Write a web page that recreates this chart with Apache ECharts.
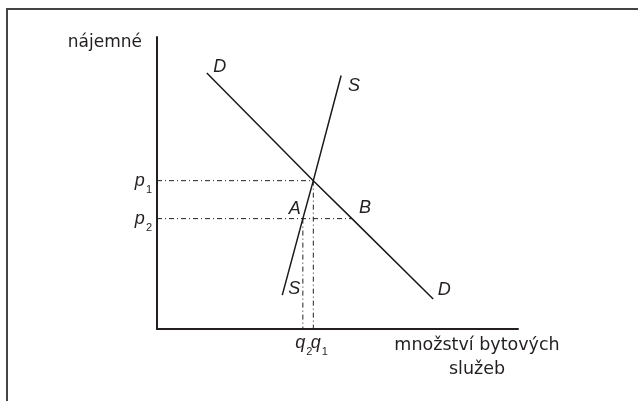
<!DOCTYPE html>
<html lang="cs">

<head>
  <meta charset="utf-8">
  <title>Nájemné a množství bytových služeb</title>
  <style>
    * {
      margin: 0;
      padding: 0;
    }

    #chart-container {
      position: relative;
      width: 638px;
      height: 401px;
      overflow: hidden;
      background: #fff;
    }
  </style>
</head>

<body>
  <div id="chart-container"></div>
  <script src="https://cdn.jsdelivr.net/npm/echarts@6/dist/echarts.min.js"></script>
  <script>
    // points (quantity, rent), axis range 0..10
    var demandPts = [[1.38, 8.77], [4.33, 5.08], [5.40, 3.78], [7.65, 1.03]];
    var supplyPts = [[3.47, 1.16], [4.04, 3.78], [4.33, 5.08], [5.10, 8.68]];
    var demandNames = ['D', '', 'B', 'D'];
    var supplyNames = ['S', 'A', '', 'S'];
    var priceLevels = [5.08, 3.78];     // p1, p2
    var priceEnds = [4.33, 5.40];       // where the p guides stop (E, B)
    var quantityLevels = [4.33, 4.04];  // q1, q2
    var quantityTops = [5.08, 3.78];    // where the q guides start (E, A)
    var subIndex = ['1', '2'];

    var textColor = '#231f20';
    var letterFont = 'Liberation Sans';
    var rich = {
      i: { fontFamily: letterFont, fontStyle: 'italic', fontSize: 18, color: textColor },
      s: { fontFamily: letterFont, fontSize: 11, color: textColor, padding: [18, 0, 0, 1] }
    };

    // label offsets next to the curve points
    var demandOffsets = [[13, -6], null, [13, -11], [11, -9]];
    var supplyOffsets = [[12, -6], [-8, -10], null, [13, 10]];

    function curveData(pts, names, offsets) {
      return pts.map(function (p, i) {
        var item = { value: p };
        if (names[i]) {
          item.label = {
            show: true,
            position: 'inside',
            offset: offsets[i],
            formatter: names[i],
            fontFamily: letterFont,
            fontStyle: 'italic',
            fontSize: 18,
            color: textColor
          };
        }
        return item;
      });
    }

    var guideStyle = { color: '#222', width: 1, type: [5, 3, 1, 3] };
    var series = [];

    priceLevels.forEach(function (p, i) {
      series.push({
        type: 'line',
        symbol: 'circle',
        symbolSize: 0,
        lineStyle: guideStyle,
        z: 1,
        data: [
          {
            value: [0, p],
            label: {
              show: true,
              position: 'left',
              distance: 5,
              formatter: '{i|p}{s|' + subIndex[i] + '}',
              rich: rich
            }
          },
          { value: [priceEnds[i], p] }
        ]
      });
    });

    var qOffsets = [[6, 14], [1, 14]];
    quantityLevels.forEach(function (q, i) {
      series.push({
        type: 'line',
        symbol: 'circle',
        symbolSize: 0,
        lineStyle: guideStyle,
        z: 1,
        data: [
          { value: [q, quantityTops[i]] },
          {
            value: [q, 0],
            label: {
              show: true,
              position: 'inside',
              offset: qOffsets[i],
              formatter: '{i|q}{s|' + subIndex[i] + '}',
              rich: rich
            }
          }
        ]
      });
    });

    series.push({
      name: 'D',
      type: 'line',
      symbol: 'circle',
      symbolSize: 0,
      lineStyle: { color: '#1a1a1a', width: 1.5 },
      z: 2,
      data: curveData(demandPts, demandNames, demandOffsets)
    });
    series.push({
      name: 'S',
      type: 'line',
      symbol: 'circle',
      symbolSize: 0,
      lineStyle: { color: '#1a1a1a', width: 1.5 },
      z: 2,
      data: curveData(supplyPts, supplyNames, supplyOffsets)
    });

    var dom = document.getElementById('chart-container');
    var myChart = echarts.init(dom, null, { renderer: 'canvas' });

    var option = {
      animation: false,
      backgroundColor: '#fff',
      graphic: [
        {
          type: 'rect',
          shape: { x: 7, y: 9, width: 700, height: 500 },
          style: { fill: null, stroke: '#444', lineWidth: 2 },
          silent: true
        }
      ],
      grid: { left: 157, top: 37, width: 361, height: 292 },
      xAxis: {
        type: 'value',
        min: 0,
        max: 10,
        name: 'množství bytových\nslužeb',
        nameLocation: 'end',
        nameGap: -41,
        nameTextStyle: {
          fontFamily: 'DejaVu Sans',
          fontSize: 17.5,
          lineHeight: 23.5,
          color: textColor,
          align: 'center',
          verticalAlign: 'top',
          padding: [5, 0, 0, 0]
        },
        axisLine: { lineStyle: { color: '#231f20', width: 2 } },
        axisTick: { show: false },
        axisLabel: { show: false },
        splitLine: { show: false }
      },
      yAxis: {
        type: 'value',
        min: 0,
        max: 10,
        name: 'nájemné',
        nameLocation: 'end',
        nameGap: -6,
        nameTextStyle: {
          fontFamily: 'DejaVu Sans',
          fontSize: 17,
          color: textColor,
          align: 'right',
          verticalAlign: 'middle',
          padding: [0, 15, 0, 0]
        },
        axisLine: { show: true, lineStyle: { color: '#231f20', width: 2 } },
        axisTick: { show: false },
        axisLabel: { show: false },
        splitLine: { show: false }
      },
      series: series
    };

    if (option && typeof option === 'object') {
      myChart.setOption(option);
    }

    window.addEventListener('resize', myChart.resize);
  </script>
</body>

</html>
